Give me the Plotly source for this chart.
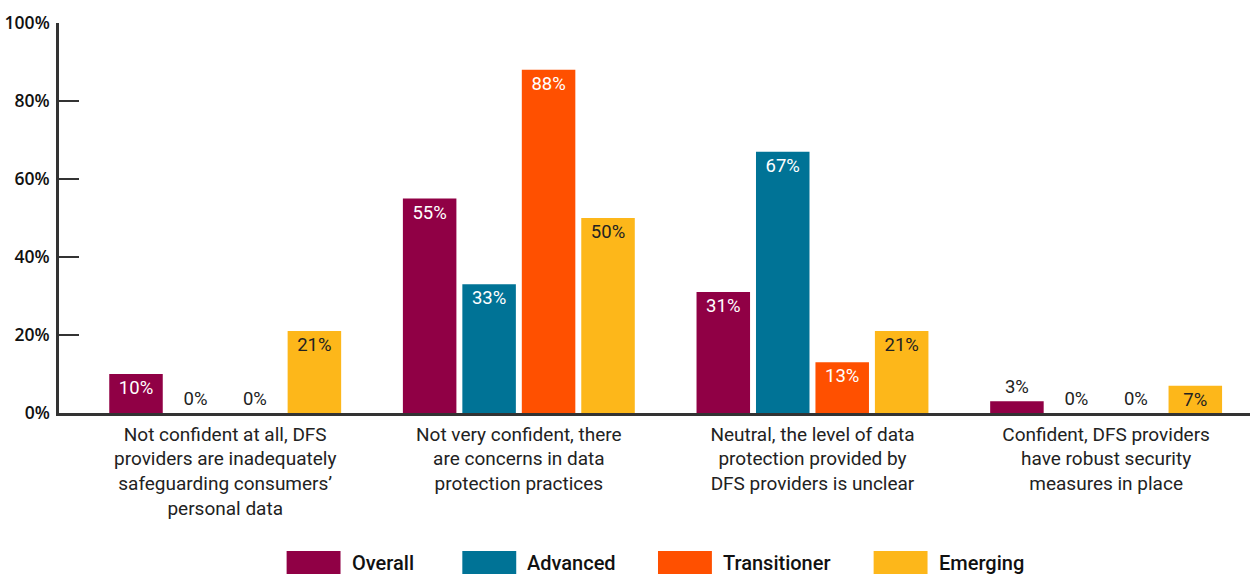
import plotly.graph_objects as go

categories = [
    "Not confident at all, DFS<br>providers are inadequately<br>safeguarding consumers’<br>personal data",
    "Not very confident, there<br>are concerns in data<br>protection practices",
    "Neutral, the level of data<br>protection provided by<br>DFS providers is unclear",
    "Confident, DFS providers<br>have robust security<br>measures in place",
]
series_names = ["Overall", "Advanced", "Transitioner", "Emerging"]
overall = [10, 55, 31, 3]
advanced = [0, 33, 67, 0]
transitioner = [0, 88, 13, 0]
emerging = [21, 50, 21, 7]
y_ticks = [0, 20, 40, 60, 80, 100]
y_tick_labels = ["0%", "20%", "40%", "60%", "80%", "100%"]

colors = ["#900045", "#007396", "#FF5000", "#FDB71A"]
inside_text_colors = ["white", "white", "white", "#222222"]

W, H = 1255, 574
ML, MR, MT, MB = 57, 5, 23, 161
plot_w = W - ML - MR
plot_h = H - MT - MB


def px_x(px):
    return (px - ML) / plot_w


def px_y(py):
    return (H - MB - py) / plot_h


fig = go.Figure()
for name, vals, col, tcol in zip(series_names, [overall, advanced, transitioner, emerging],
                                 colors, inside_text_colors):
    fig.add_trace(go.Bar(
        x=categories, y=vals, name=name,
        marker=dict(color=col, line=dict(width=0)),
        text=[f"{v}%" for v in vals],
        textposition=["inside" if v >= 5 else "outside" for v in vals],
        insidetextanchor="end",
        textangle=0,
        constraintext="none",
        insidetextfont=dict(family="Roboto", size=18.5, color=tcol),
        outsidetextfont=dict(family="Roboto", size=18.5, color="#222222"),
        cliponaxis=False,
        showlegend=False,
    ))

# legend drawn by hand to get wide swatches
legend_swatch_px = [285, 461, 657, 873]
for name, col, sx in zip(series_names, colors, legend_swatch_px):
    fig.add_shape(type="rect", xref="paper", yref="paper",
                  x0=px_x(sx), x1=px_x(sx + 54), y0=px_y(551), y1=px_y(576),
                  fillcolor=col, line=dict(width=0))
    fig.add_annotation(xref="paper", yref="paper", x=px_x(sx + 63), y=px_y(563),
                       text=name, showarrow=False, xanchor="left", yanchor="middle",
                       font=dict(family="Roboto", size=20, color="#111111", weight=500))

fig.update_layout(
    width=W, height=H,
    margin=dict(l=ML, r=MR, t=MT, b=MB),
    paper_bgcolor="white", plot_bgcolor="white",
    barmode="group", bargap=0.19, bargroupgap=0.1,
    font=dict(family="Roboto", color="#222222"),
)
fig.update_xaxes(
    range=[-0.566, 3.49],
    showline=True, linecolor="#333333", linewidth=2.5,
    showgrid=False, zeroline=False, ticks="",
    tickfont=dict(family="Roboto", size=19, color="#222222"),
    ticklabelstandoff=2,
)
fig.update_yaxes(
    range=[0, 100],
    tickvals=y_ticks, ticktext=y_tick_labels,
    showline=True, linecolor="#333333", linewidth=2.5,
    showgrid=False, zeroline=False,
    ticks="inside", ticklen=20, tickwidth=2, tickcolor="#333333",
    tickfont=dict(family="Open Sans", size=17.5, color="#111111", weight=600),
    ticklabelstandoff=3,
)

fig.write_html("out.html", config={"displayModeBar": False},
               post_script="document.body.style.margin='0';")
